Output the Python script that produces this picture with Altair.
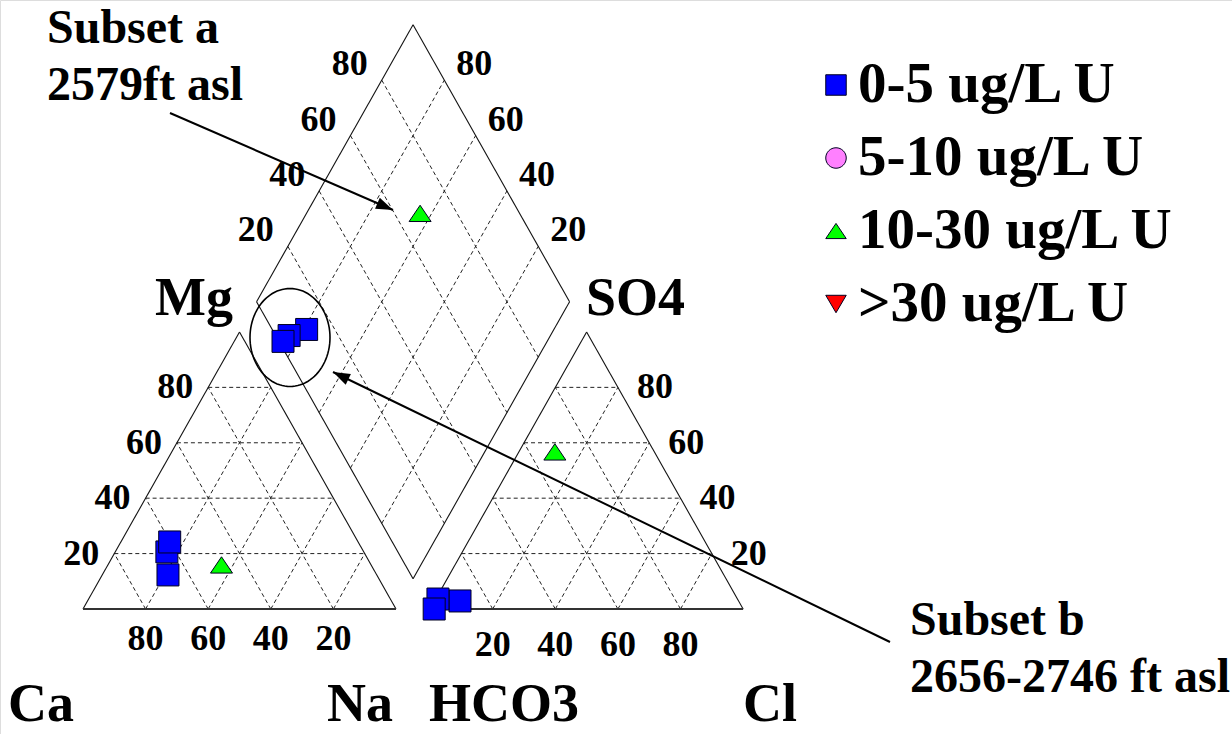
import math
import altair as alt
import pandas as pd

# Sample chemistry, percent of total cations / anions (meq/L)
SAMPLE_CLASS = ["0-5 ug/L U", "0-5 ug/L U", "0-5 ug/L U", "10-30 ug/L U"]
MG_PCT = [12.3, 20.6, 24.2, 15.9]
NAK_PCT = [21.0, 16.5, 15.6, 36.3]
SO4_PCT = [2.9, 3.6, 0.0, 56.7]
CL_PCT = [8.1, 0.7, 1.3, 11.5]

# Uranium classes in the key
CLASS_LABELS = ["0-5 ug/L U", "5-10 ug/L U", "10-30 ug/L U", ">30 ug/L U"]
CLASS_FILLS = ["#0000FF", "#FF80FF", "#00FF00", "#FF0000"]
CLASS_SHAPES = [
    "M-1,-1L1,-1L1,1L-1,1Z",
    "M1,0A1,1,0,1,1,-1,0A1,1,0,1,1,1,0Z",
    "M-1,0.74L1,0.74L0,-0.74Z",
    "M-1,-0.85L1,-0.85L0,0.85Z",
]

GRID_PCT = [20, 40, 60, 80]

# ---------------------------------------------------------------- layout
W, H = 1232, 734
X0, Y0 = 83.0, 609.0      # Ca corner of the cation triangle
KX, KY = 3.13, 3.199      # pixels per percent unit
GAP = 10.9                # space between the two triangles
OFF = 100.0 + GAP
R3 = math.sqrt(3.0)
FONT = "Liberation Serif"


def to_px(u, v):
    return (X0 + KX * u, Y0 - KY * v)


def cation_xy(mg, nak):
    return to_px(nak + mg / 2.0, mg * R3 / 2.0)


def anion_xy(so4, cl):
    return to_px(OFF + cl + so4 / 2.0, so4 * R3 / 2.0)


def diamond_xy(nak, so4cl):
    v = (OFF + so4cl - nak) * R3 / 2.0
    return to_px(nak + v / R3, v)


xs = alt.Scale(domain=[0, W], nice=False, zero=False)
ys = alt.Scale(domain=[H, 0], nice=False, zero=False)


def seg_frame(pairs):
    return pd.DataFrame(
        [dict(x=p[0], y=p[1], x2=q[0], y2=q[1]) for p, q in pairs]
    )


def rules(df, **style):
    return alt.Chart(df).mark_rule(**style).encode(
        x=alt.X("x:Q", scale=xs, axis=None),
        y=alt.Y("y:Q", scale=ys, axis=None),
        x2="x2:Q",
        y2="y2:Q",
    )


# outlines
ca, mgc, na = cation_xy(0, 0), cation_xy(100, 0), cation_xy(0, 100)
hco3, so4c, clc = anion_xy(0, 0), anion_xy(100, 0), anion_xy(0, 100)
dl, dt, dr, db = diamond_xy(0, 0), diamond_xy(0, 100), diamond_xy(100, 100), diamond_xy(100, 0)

sides = seg_frame([(ca, mgc), (mgc, na), (hco3, so4c), (so4c, clc),
                   (dl, dt), (dt, dr), (dr, db), (db, dl)])
bases = seg_frame([(ca, na), (hco3, clc)])

# dashed 20 % grid
grid_pairs = []
for k in GRID_PCT:
    grid_pairs += [
        (cation_xy(k, 0), cation_xy(k, 100 - k)),
        (cation_xy(0, k), cation_xy(100 - k, k)),
        (cation_xy(0, 100 - k), cation_xy(100 - k, 0)),
        (anion_xy(k, 0), anion_xy(k, 100 - k)),
        (anion_xy(0, k), anion_xy(100 - k, k)),
        (anion_xy(0, 100 - k), anion_xy(100 - k, 0)),
        (diamond_xy(k, 0), diamond_xy(k, 100)),
        (diamond_xy(0, k), diamond_xy(100, k)),
    ]
grid = seg_frame(grid_pairs)

# scale numbers
tick_rows = []
for k in GRID_PCT:
    x, y = cation_xy(0, 100 - k)          # Ca along the base
    tick_rows.append(dict(x=x, y=y + 41, t=str(k)))
    x, y = anion_xy(0, k)                  # Cl along the base
    tick_rows.append(dict(x=x, y=y + 47, t=str(k)))
    x, y = cation_xy(k, 0)                 # Mg on the left side
    tick_rows.append(dict(x=x - 33, y=y + 11, t=str(k)))
    x, y = anion_xy(k, 100 - k)            # SO4 on the right side
    tick_rows.append(dict(x=x + 37, y=y + 11, t=str(k)))
    x, y = diamond_xy(0, k)                # SO4+Cl, upper-left edge
    tick_rows.append(dict(x=x - 32, y=y - 5, t=str(k)))
    x, y = diamond_xy(100 - k, 100)        # Ca+Mg, upper-right edge
    tick_rows.append(dict(x=x + 30, y=y - 5, t=str(k)))
ticks = pd.DataFrame(tick_rows)

# samples projected into the three fields
pt_rows = []
for i, cls in enumerate(SAMPLE_CLASS):
    for xy in (cation_xy(MG_PCT[i], NAK_PCT[i]),
               anion_xy(SO4_PCT[i], CL_PCT[i]),
               diamond_xy(NAK_PCT[i], SO4_PCT[i] + CL_PCT[i])):
        pt_rows.append(dict(x=xy[0], y=xy[1], cls=cls, i=i))
pts = pd.DataFrame(pt_rows)

shape_scale = alt.Scale(domain=CLASS_LABELS, range=CLASS_SHAPES)
fill_scale = alt.Scale(domain=CLASS_LABELS, range=CLASS_FILLS)

markers = alt.Chart(pts).mark_point(
    filled=True, size=484, stroke="#000020", strokeWidth=1, opacity=1
).encode(
    x=alt.X("x:Q", scale=xs, axis=None),
    y=alt.Y("y:Q", scale=ys, axis=None),
    shape=alt.Shape("cls:N", scale=shape_scale, legend=None),
    fill=alt.Fill("cls:N", scale=fill_scale, legend=None),
    order=alt.Order("i:Q"),
)

# key
KEY_X, KEY_TEXT_X, KEY_BASE, KEY_STEP = 836, 858, 102, 73
key = pd.DataFrame(dict(
    cls=CLASS_LABELS,
    x=[KEY_X] * 4,
    tx=[KEY_TEXT_X] * 4,
    y=[KEY_BASE + KEY_STEP * j - 17 for j in range(4)],
    ty=[KEY_BASE + KEY_STEP * j for j in range(4)],
))
key_sym = alt.Chart(key).mark_point(
    filled=True, size=420, stroke="#000020", strokeWidth=1, opacity=1
).encode(
    x=alt.X("x:Q", scale=xs, axis=None),
    y=alt.Y("y:Q", scale=ys, axis=None),
    shape=alt.Shape("cls:N", scale=shape_scale, legend=None),
    fill=alt.Fill("cls:N", scale=fill_scale, legend=None),
)
key_txt = alt.Chart(key).mark_text(
    align="left", baseline="alphabetic", font=FONT, fontWeight="bold",
    fontSize=57, color="black"
).encode(
    x=alt.X("tx:Q", scale=xs, axis=None),
    y=alt.Y("ty:Q", scale=ys, axis=None),
    text="cls:N",
)

tick_txt = alt.Chart(ticks).mark_text(
    align="center", baseline="alphabetic", font=FONT, fontWeight="bold",
    fontSize=36, color="black"
).encode(
    x=alt.X("x:Q", scale=xs, axis=None),
    y=alt.Y("y:Q", scale=ys, axis=None),
    text="t:N",
)

# ion names at the corners
corner = pd.DataFrame(dict(
    t=["Mg", "SO4", "Ca", "Na", "HCO3", "Cl"],
    x=[155, 586, 8, 327, 429, 743],
    y=[315, 315, 721, 721, 721, 721],
))
corner_txt = alt.Chart(corner).mark_text(
    align="left", baseline="alphabetic", font=FONT, fontWeight="bold",
    fontSize=54, color="black"
).encode(
    x=alt.X("x:Q", scale=xs, axis=None),
    y=alt.Y("y:Q", scale=ys, axis=None),
    text="t:N",
)

# subset call-outs
notes = pd.DataFrame(dict(
    t=["Subset a", "2579ft asl", "Subset b", "2656-2746 ft asl"],
    x=[47, 47, 910, 910],
    y=[43, 100, 635, 692],
))
notes_txt = alt.Chart(notes).mark_text(
    align="left", baseline="alphabetic", font=FONT, fontWeight="bold",
    fontSize=48, color="black"
).encode(
    x=alt.X("x:Q", scale=xs, axis=None),
    y=alt.Y("y:Q", scale=ys, axis=None),
    text="t:N",
)

ARROWS = [((170, 113), (393, 210)), ((890, 642), (333, 372))]
arrow_lines = seg_frame(ARROWS)
heads = pd.DataFrame([
    dict(x=q[0], y=q[1],
         a=math.degrees(math.atan2(q[1] - p[1], q[0] - p[0])) % 360)
    for p, q in ARROWS
])
arrow_heads = alt.Chart(heads).mark_point(
    shape="M0,0L-2,-0.7L-2,0.7Z", filled=True, size=289, color="black", opacity=1
).encode(
    x=alt.X("x:Q", scale=xs, axis=None),
    y=alt.Y("y:Q", scale=ys, axis=None),
    angle=alt.Angle("a:Q", scale=None),
)

# ring around the subset b cluster
ECX, ECY, ERX, ERY = 290, 337.5, 40, 49
ring = pd.DataFrame([
    dict(x=ECX + ERX * math.cos(2 * math.pi * j / 96),
         y=ECY + ERY * math.sin(2 * math.pi * j / 96), j=j)
    for j in range(97)
])
ring_line = alt.Chart(ring).mark_line(color="black", strokeWidth=1.6).encode(
    x=alt.X("x:Q", scale=xs, axis=None),
    y=alt.Y("y:Q", scale=ys, axis=None),
    order="j:Q",
)

chart = alt.layer(
    rules(grid, stroke="#222222", strokeWidth=1, strokeDash=[4, 3]),
    rules(sides, stroke="#111111", strokeWidth=1.1),
    rules(bases, stroke="#333333", strokeWidth=2),
    ring_line,
    rules(arrow_lines, stroke="black", strokeWidth=2),
    arrow_heads,
    markers,
    tick_txt,
    corner_txt,
    notes_txt,
    key_sym,
    key_txt,
).properties(
    width=W, height=H,
    autosize=alt.AutoSizeParams(type="none"),
    padding=0,
).configure_view(stroke=None).configure(background="white")

chart.save("out.html", embed_options={"renderer": "svg", "actions": False})
